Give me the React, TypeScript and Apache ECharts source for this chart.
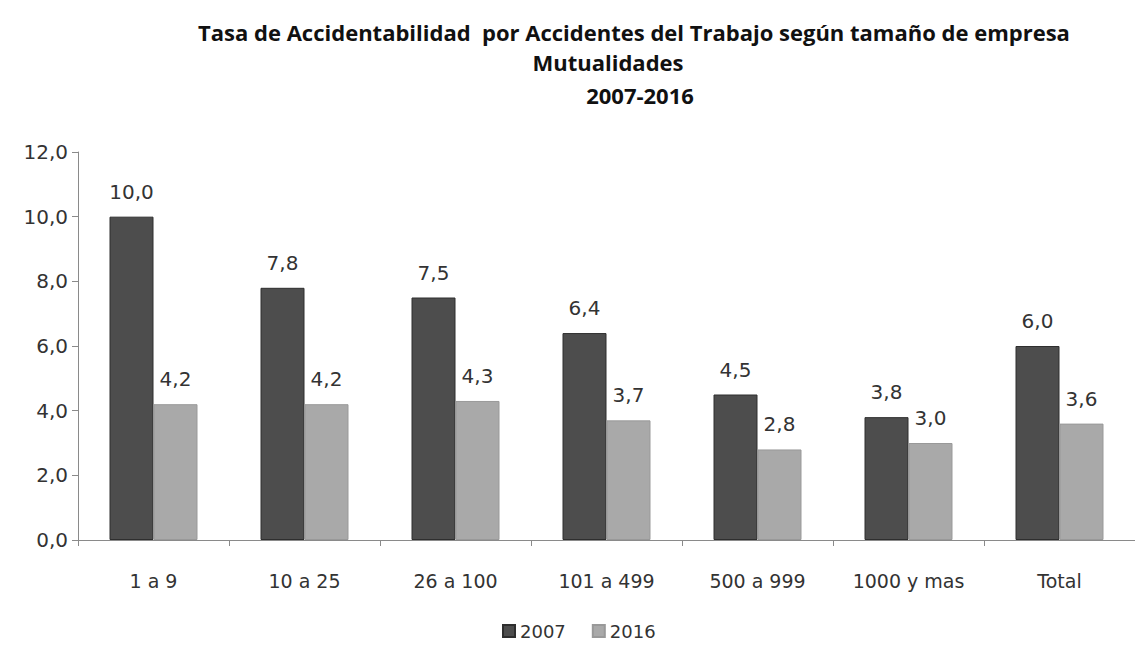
import React, { useEffect, useRef } from "react";
import * as echarts from "echarts";

const categories = ["1 a 9", "10 a 25", "26 a 100", "101 a 499", "500 a 999", "1000 y mas", "Total"];
const values2007 = [10.0, 7.8, 7.5, 6.4, 4.5, 3.8, 6.0];
const values2016 = [4.2, 4.2, 4.3, 3.7, 2.8, 3.0, 3.6];
const seriesNames = ["2007", "2016"];
const titleLines = [
  "Tasa de Accidentabilidad  por Accidentes del Trabajo según tamaño de empresa",
  "Mutualidades",
  "2007-2016",
];

const fmt = (v: number) => v.toFixed(1).replace(".", ",");

export default function App() {
  const ref = useRef<HTMLDivElement>(null);
  useEffect(() => {
    document.body.style.margin = "0";
    const chart = echarts.init(ref.current!, null, { renderer: "svg" });
    const labelFont = "'DejaVu Sans', Verdana, sans-serif";
    const titleStyle = {
      fontFamily: "'Open Sans', sans-serif",
      fontWeight: "bold" as const,
      fontSize: 22,
      color: "#111",
    };
    const dataLabel = {
      show: true,
      position: "top",
      distance: 15,
      fontFamily: labelFont,
      fontSize: 20,
      color: "#333",
      formatter: (p: any) => fmt(p.value),
    };
    chart.setOption({
      animation: false,
      backgroundColor: "#fff",
      title: [
        { text: titleLines[0], left: 629, top: 16, textAlign: "center", textStyle: titleStyle },
        { text: titleLines[1], left: 603, top: 46, textAlign: "center", textStyle: titleStyle },
        { text: titleLines[2], left: 635, top: 79, textAlign: "center", textStyle: titleStyle },
      ],
      legend: {
        data: seriesNames,
        left: 497,
        top: 617,
        itemWidth: 12,
        itemHeight: 12,
        itemGap: 26,
        icon: "rect",
        textStyle: { fontFamily: labelFont, fontSize: 18, color: "#333" },
      },
      grid: { left: 78, right: 0, top: 152, bottom: 125 },
      xAxis: {
        type: "category",
        data: categories,
        axisLine: { lineStyle: { color: "#8a8a8a" } },
        axisTick: { show: true, length: 6, lineStyle: { color: "#8a8a8a" } },
        axisLabel: { interval: 0, fontFamily: labelFont, fontSize: 19, color: "#333", margin: 31 },
      },
      yAxis: {
        type: "value",
        min: 0,
        max: 12,
        interval: 2,
        splitLine: { show: false },
        axisLine: { show: true, lineStyle: { color: "#8a8a8a" } },
        axisTick: { show: true, length: 6, lineStyle: { color: "#8a8a8a" } },
        axisLabel: {
          fontFamily: labelFont,
          fontSize: 20,
          color: "#333",
          margin: 10,
          formatter: (v: number) => fmt(v),
        },
      },
      series: [
        {
          name: seriesNames[0],
          type: "bar",
          data: values2007,
          barWidth: 44,
          barGap: "0%",
          itemStyle: { color: "#4d4d4d", borderColor: "#2e2e2e", borderWidth: 1 },
          label: dataLabel,
        },
        {
          name: seriesNames[1],
          type: "bar",
          data: values2016,
          barWidth: 44,
          itemStyle: { color: "#a9a9a9", borderColor: "#999", borderWidth: 1 },
          label: dataLabel,
        },
      ],
    });
    return () => chart.dispose();
  }, []);
  return <div ref={ref} style={{ width: 1135, height: 665 }} />;
}
